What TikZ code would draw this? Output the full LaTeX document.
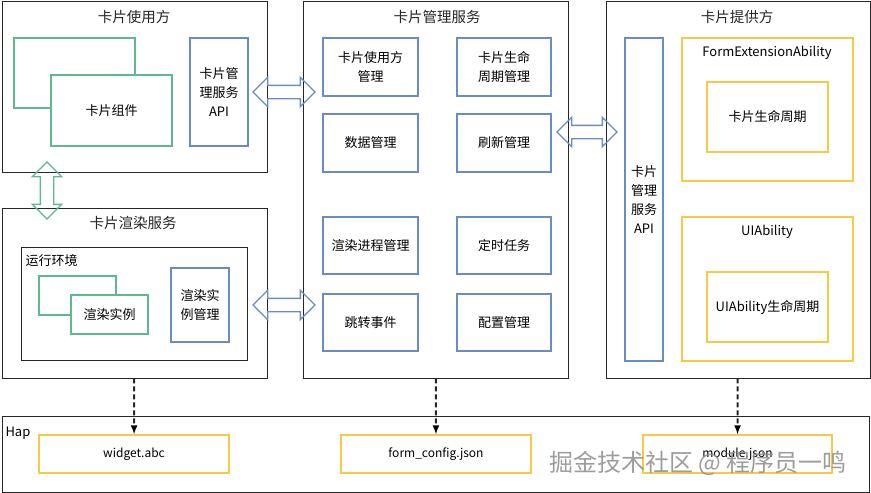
\documentclass[tikz,border=0pt]{standalone}
\usepackage{fontspec}
\setmainfont{Noto Sans CJK SC}
\usetikzlibrary{shapes,arrows}
\definecolor{cardgreen}{RGB}{93,185,143}
\definecolor{apiblue}{RGB}{106,140,196}
\definecolor{abilityyellow}{RGB}{245,201,74}

\begin{document}
\begin{tikzpicture}[
	x=1pt, y=-1pt,
	framebox/.style={draw=black!85,line width=0.9pt,inner sep=0pt},
	title/.style={text=black!85,font=\fontsize{14.5}{19}\selectfont},
	cardbox/.style={draw=cardgreen,line width=1.6pt,fill=white,inner sep=0pt,align=center,font=\fontsize{13}{19}\selectfont},
	apibox/.style={draw=apiblue,line width=1.6pt,fill=white,inner sep=0pt,align=center,font=\fontsize{13}{19}\selectfont},
	abilitybox/.style={draw=abilityyellow,line width=1.6pt,fill=white,inner sep=0pt,align=center,font=\fontsize{13}{19}\selectfont},
	filebox/.style={draw=abilityyellow,line width=1.6pt,fill=white,inner sep=0pt,font=\fontsize{12}{15}\selectfont},
	dblarrow/.style={double arrow,draw=#1,line width=1.4pt,inner sep=6pt,
		double arrow head extend=8pt,double arrow head indent=0pt,
		minimum width=28pt},
	]
	\useasboundingbox (0,0) rectangle (871,493);
	% 卡片使用方
	\node[framebox,minimum width=265pt,minimum height=171pt] (user) at (134.5,86.5) {};
	\node[title] (usertitle) at (134,17) {卡片使用方};
	\node[cardbox,minimum width=121pt,minimum height=70pt] (cardback) at (74.5,73) {};
	\node[cardbox,minimum width=121pt,minimum height=71pt] (card) at (111.5,110.5) {卡片组件};
	\node[apibox,minimum width=58pt,minimum height=108pt] (userapi) at (219,92) {卡片管\\理服务\\API};
	% 卡片渲染服务
	\node[framebox,minimum width=265pt,minimum height=170pt] (render) at (134.5,293) {};
	\node[title] (rendertitle) at (133,223) {卡片渲染服务};
	\node[framebox,minimum width=226pt,minimum height=113pt] (runtime) at (134,303.5) {};
	\node[anchor=west,font=\fontsize{13}{19}\selectfont] (runtimelabel) at (22,261) {运行环境};
	\node[cardbox,minimum width=77pt,minimum height=39pt] (instback) at (77.5,295.5) {};
	\node[cardbox,minimum width=77pt,minimum height=39pt] (inst) at (109.5,314.5) {渲染实例};
	\node[apibox,minimum width=58pt,minimum height=74pt] (instmgr) at (200,305) {渲染实\\例管理};
	% 卡片管理服务
	\node[framebox,minimum width=265pt,minimum height=377pt] (mgr) at (435.5,189.5) {};
	\node[title] (mgrtitle) at (437,17) {卡片管理服务};
	\node[apibox,minimum width=95pt,minimum height=58pt] (usermgr) at (370.5,67) {卡片使用方\\管理};
	\node[apibox,minimum width=94pt,minimum height=58pt] (lifemgr) at (504,67) {卡片生命\\周期管理};
	\node[apibox,minimum width=95pt,minimum height=58pt] (datamgr) at (370.5,143) {数据管理};
	\node[apibox,minimum width=94pt,minimum height=58pt] (refreshmgr) at (504,143) {刷新管理};
	\node[apibox,minimum width=95pt,minimum height=57pt] (procmgr) at (370.5,245.5) {渲染进程管理};
	\node[apibox,minimum width=94pt,minimum height=57pt] (timer) at (504,245.5) {定时任务};
	\node[apibox,minimum width=95pt,minimum height=57pt] (jump) at (370.5,322.5) {跳转事件};
	\node[apibox,minimum width=94pt,minimum height=57pt] (configmgr) at (504,322.5) {配置管理};
	% 卡片提供方
	\node[framebox,minimum width=264pt,minimum height=377pt] (prov) at (738,189.5) {};
	\node[title] (provtitle) at (737,17) {卡片提供方};
	\node[apibox,minimum width=38pt,minimum height=323pt] (provapi) at (644,199.5) {卡片\\管理\\服务\\API};
	\node[abilitybox,minimum width=171pt,minimum height=143pt] (formext) at (767.5,109.5) {};
	\node[font=\fontsize{13}{19}\selectfont] (formexttitle) at (767,53) {FormExtensionAbility};
	\node[abilitybox,minimum width=121pt,minimum height=70pt] (formlife) at (767.5,117) {卡片生命周期};
	\node[abilitybox,minimum width=171pt,minimum height=144pt] (uiab) at (767.5,289) {};
	\node[font=\fontsize{13}{19}\selectfont] (uiabtitle) at (767,232) {UIAbility};
	\node[abilitybox,minimum width=121pt,minimum height=70pt] (uilife) at (767.5,307) {UIAbility生命周期};
	% Hap
	\node[framebox,minimum width=867pt,minimum height=76pt] (hap) at (435.5,454) {};
	\node[anchor=west,font=\fontsize{13}{19}\selectfont] (haplabel) at (2,433) {Hap};
	\node[filebox,minimum width=190pt,minimum height=38pt] (widgetfile) at (134,454) {widget.abc};
	\node[filebox,minimum width=190pt,minimum height=38pt] (formcfg) at (436,454) {form\_config.json};
	\node[filebox,minimum width=189pt,minimum height=38pt] (modulefile) at (737.5,454) {module.json};
	% double arrows
	\node[dblarrow=apiblue,minimum height=62pt] (userlink) at (284,92) {};
	\node[dblarrow=apiblue,minimum height=62pt] (renderlink) at (284,305) {};
	\node[dblarrow=apiblue,minimum height=60pt] (provlink) at (587,132) {};
	\node[dblarrow=cardgreen,minimum height=57pt,shape border rotate=90] (uselink) at (47,190.5) {};
	\path [-latex,line width=2pt,dash pattern=on 5pt off 3pt,draw=black!85]
	(render) edge (widgetfile)
	(mgr) edge (formcfg)
	(prov) edge (modulefile);
	\node[text=black!45,opacity=0.85,font=\fontsize{24}{28}\selectfont] (watermark) at (698,463) {掘金技术社区 @ 程序员一鸣};
\end{tikzpicture}
\end{document}
